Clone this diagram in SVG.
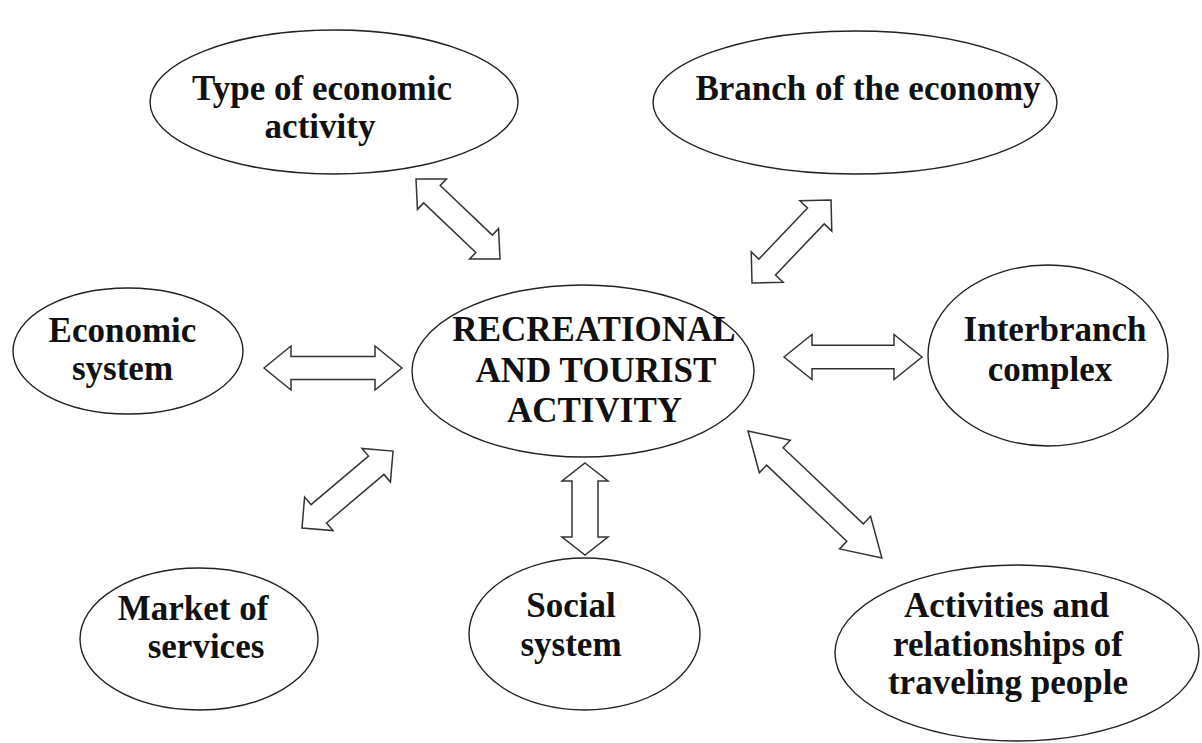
<svg xmlns="http://www.w3.org/2000/svg" width="1202" height="743" viewBox="0 0 1202 743">
<style>
.node ellipse{fill:none;stroke:#222;stroke-width:1.4}
.node text{font-family:"Liberation Serif","Times New Roman",serif;font-weight:bold;font-size:35px;fill:#111;text-anchor:middle}
#connectors polygon{fill:#fff;stroke:#333;stroke-width:1.5;stroke-linejoin:miter}
</style>
<rect width="1202" height="743" fill="#fff"/>
<g id="connectors">
<polygon transform="translate(416,179) rotate(43.6)" points="0,0 22,-21 22,-12 94,-12 94,-21 116,0 94,21 94,12 22,12 22,21"/>
<polygon transform="translate(752,283) rotate(-46.4)" points="0,0 22,-22 22,-11.5 92.6,-11.5 92.6,-22 114.6,0 92.6,22 92.6,11.5 22,11.5 22,22"/>
<polygon transform="translate(264,368)" points="0,0 27,-22 27,-11.5 111,-11.5 111,-22 138,0 111,22 111,11.5 27,11.5 27,22"/>
<polygon transform="translate(784,357)" points="0,0 28,-22.5 28,-11.7 110,-11.7 110,-22.5 138,0 110,22.5 110,11.7 28,11.7 28,22.5"/>
<polygon transform="translate(302,528) rotate(-40.2)" points="0,0 22,-22 22,-12 97.2,-12 97.2,-22 119.2,0 97.2,22 97.2,12 22,12 22,22"/>
<polygon transform="translate(585,463) rotate(90)" points="0,0 18,-23 18,-13 74,-13 74,-23 92,0 74,23 74,13 18,13 18,23"/>
<polygon transform="translate(748,431) rotate(43.5)" points="0,0 37,-22.5 37,-12 147.6,-12 147.6,-22.5 184.6,0 147.6,22.5 147.6,12 37,12 37,22.5"/>
</g>
<g id="type" class="node">
<ellipse cx="334" cy="102" rx="184" ry="72"/>
<text x="322" y="100">Type of economic</text>
<text x="320" y="138">activity</text>
</g>
<g id="branch" class="node">
<ellipse cx="855" cy="102.5" rx="202" ry="71.5"/>
<text x="868" y="100">Branch of the economy</text>
</g>
<g id="economic" class="node">
<ellipse cx="128" cy="351" rx="115" ry="63"/>
<text x="122.5" y="342">Economic</text>
<text x="122.5" y="380">system</text>
</g>
<g id="center" class="node">
<ellipse cx="583" cy="371" rx="171" ry="86"/>
<text x="594" y="341">RECREATIONAL</text>
<text x="596" y="382">AND TOURIST</text>
<text x="594.5" y="422">ACTIVITY</text>
</g>
<g id="interbranch" class="node">
<ellipse cx="1048" cy="355.5" rx="120" ry="90.5"/>
<text x="1055" y="341">Interbranch</text>
<text x="1050" y="381">complex</text>
</g>
<g id="market" class="node">
<ellipse cx="199" cy="639" rx="119" ry="71"/>
<text x="193" y="620">Market of</text>
<text x="206" y="658">services</text>
</g>
<g id="social" class="node">
<ellipse cx="584.5" cy="634" rx="115.5" ry="76"/>
<text x="571" y="617">Social</text>
<text x="571" y="656">system</text>
</g>
<g id="activities" class="node">
<ellipse cx="1017" cy="653" rx="182" ry="88"/>
<text x="1006.5" y="617">Activities and</text>
<text x="1008" y="656">relationships of</text>
<text x="1008" y="694">traveling people</text>
</g>
</svg>
